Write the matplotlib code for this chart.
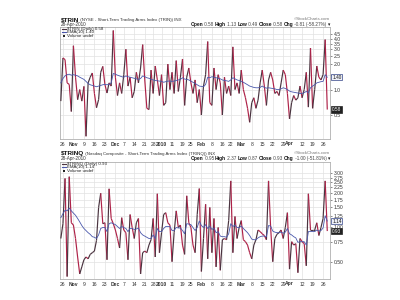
import numpy as np
import pandas as pd
import matplotlib
matplotlib.use('Agg')
import matplotlib.pyplot as plt
from matplotlib.collections import LineCollection
from matplotlib.ticker import NullLocator

plt.rcParams['font.family'] = ['Liberation Sans', 'DejaVu Sans']

# ---------------- data ----------------
holidays = ['2009-11-26', '2009-12-25', '2010-01-01', '2010-01-18', '2010-02-15', '2010-04-02']
first_day = '2009-10-23'
last_day = '2010-04-28'

trin = [
    0.73, 2.37, 2.26, 1.20, 1.15, 0.55, 3.30, 1.40, 0.76, 1.00,
    0.73, 1.09, 0.28, 1.20, 1.40, 1.57, 0.90, 0.61, 0.76, 1.60,
    1.88, 1.15, 0.91, 1.20, 1.10, 5.00, 1.40, 0.85, 1.20, 0.90,
    1.50, 3.00, 1.10, 1.40, 0.80, 0.95, 1.60, 1.20, 1.80, 3.40,
    1.30, 0.60, 0.58, 1.70, 0.90, 1.90, 1.30, 0.85, 1.50, 0.65,
    0.70, 2.00, 1.00, 1.60, 0.90, 2.20, 0.95, 1.40, 2.30, 0.65,
    1.40, 1.80, 1.20, 0.90, 1.30, 0.70, 1.00, 0.50, 1.10, 1.50,
    3.70, 0.70, 0.65, 1.80, 1.00, 1.50, 1.20, 0.50, 1.40, 0.90,
    1.10, 0.85, 3.20, 1.00, 1.20, 0.90, 1.70, 1.00, 0.80, 0.60,
    0.41, 0.70, 0.80, 0.60, 0.75, 1.20, 1.70, 1.10, 0.65, 1.30,
    1.60, 1.30, 0.90, 0.95, 0.85, 1.20, 1.70, 1.50, 0.90, 0.45,
    0.70, 0.85, 0.75, 0.80, 1.10, 0.80, 1.00, 1.60, 0.62, 3.10,
    0.60, 1.00, 1.90, 1.40, 1.30, 1.50, 3.90, 0.58]

trin_ema = [
    1.20, 1.35, 1.45, 1.50, 1.52, 1.48, 1.50, 1.48, 1.45, 1.40,
    1.36, 1.32, 1.25, 1.18, 1.14, 1.12, 1.10, 1.08, 1.10, 1.12,
    1.14, 1.15, 1.14, 1.15, 1.20, 1.55, 1.52, 1.48, 1.45, 1.42,
    1.40, 1.45, 1.42, 1.40, 1.38, 1.36, 1.34, 1.32, 1.35, 1.45,
    1.42, 1.38, 1.36, 1.32, 1.30, 1.28, 1.27, 1.26, 1.25, 1.22,
    1.24, 1.26, 1.26, 1.25, 1.26, 1.28, 1.30, 1.32, 1.38, 1.33,
    1.32, 1.30, 1.26, 1.22, 1.18, 1.14, 1.10, 1.09, 1.08, 1.15,
    1.40, 1.38, 1.42, 1.40, 1.38, 1.36, 1.34, 1.30, 1.28, 1.27,
    1.25, 1.30, 1.38, 1.34, 1.30, 1.28, 1.25, 1.22, 1.18, 1.14,
    1.10, 1.08, 1.06, 1.05, 1.05, 1.06, 1.10, 1.06, 1.04, 1.05,
    1.04, 1.03, 1.02, 1.00, 1.00, 1.02, 1.05, 1.03, 1.00, 0.96,
    0.94, 0.93, 0.92, 0.91, 0.90, 0.90, 0.92, 0.95, 0.92, 1.05,
    1.10, 1.14, 1.20, 1.22, 1.24, 1.25, 1.50, 1.40]

trinq = [
    0.80, 1.08, 2.70, 0.37, 2.80, 1.10, 1.05, 0.80, 0.55, 0.39,
    0.45, 0.52, 0.55, 0.53, 0.58, 0.60, 0.62, 0.77, 1.50, 2.00,
    1.08, 1.10, 0.52, 2.19, 1.20, 1.08, 0.95, 0.80, 0.66, 1.22,
    0.95, 0.90, 0.52, 1.30, 1.00, 0.80, 1.10, 1.20, 0.39, 0.60,
    0.62, 0.60, 0.70, 0.78, 1.20, 0.55, 1.98, 0.60, 0.90, 1.30,
    1.35, 1.10, 1.05, 0.50, 0.90, 1.40, 1.00, 1.05, 0.70, 0.58,
    1.90, 1.10, 1.00, 0.70, 0.60, 1.30, 2.20, 0.41, 0.80, 1.60,
    0.53, 1.50, 0.60, 1.20, 0.45, 1.00, 0.42, 0.78, 0.80, 0.78,
    1.15, 2.57, 0.60, 1.25, 0.80, 1.00, 1.15, 0.78, 0.75, 0.70,
    0.60, 0.53, 0.70, 0.78, 0.95, 0.92, 0.88, 0.85, 0.78, 2.57,
    1.00, 0.50, 0.80, 0.87, 0.90, 0.95, 0.80, 1.00, 1.35, 0.43,
    0.75, 0.70, 0.72, 0.40, 0.80, 0.75, 0.72, 0.46, 1.98, 0.95,
    0.95, 0.95, 1.10, 0.85, 1.00, 1.20, 2.57, 0.93]

trinq_ema = [
    1.22, 1.32, 1.42, 1.40, 1.48, 1.40, 1.34, 1.28, 1.20, 1.12,
    1.04, 0.98, 0.94, 0.90, 0.87, 0.83, 0.82, 0.80, 0.86, 0.98,
    1.00, 1.00, 0.92, 1.08, 1.10, 1.08, 1.06, 1.02, 0.98, 1.02,
    1.00, 0.98, 0.92, 0.98, 0.98, 0.96, 0.97, 0.99, 0.90, 0.86,
    0.84, 0.82, 0.80, 0.80, 0.86, 0.80, 0.98, 0.92, 0.92, 0.98,
    1.02, 1.02, 1.02, 0.94, 0.94, 1.00, 0.99, 0.99, 0.94, 0.88,
    1.08, 1.07, 1.06, 1.00, 0.94, 1.00, 1.14, 1.04, 1.00, 1.06,
    0.98, 1.03, 0.96, 0.99, 0.90, 0.92, 0.84, 0.83, 0.83, 0.82,
    0.88, 1.08, 1.02, 1.05, 1.00, 1.00, 1.03, 0.98, 0.94, 0.90,
    0.85, 0.79, 0.78, 0.78, 0.81, 0.83, 0.84, 0.84, 0.83, 1.04,
    1.03, 0.93, 0.91, 0.90, 0.90, 0.91, 0.89, 0.91, 0.98, 0.88,
    0.86, 0.83, 0.81, 0.74, 0.75, 0.75, 0.75, 0.70, 0.92, 0.92,
    0.92, 0.92, 0.95, 0.93, 0.94, 0.99, 1.27, 1.14]

tick_dates = ['2009-10-26', '2009-11-02', '2009-11-09', '2009-11-16', '2009-11-23',
              '2009-12-01', '2009-12-07', '2009-12-14', '2009-12-21', '2009-12-28',
              '2010-01-04', '2010-01-11', '2010-01-19', '2010-01-25', '2010-02-01',
              '2010-02-08', '2010-02-16', '2010-02-22', '2010-03-01', '2010-03-08',
              '2010-03-15', '2010-03-22', '2010-03-29', '2010-04-01', '2010-04-12',
              '2010-04-19', '2010-04-26']
tick_labels = ['26', 'Nov', '9', '16', '23', 'Dec', '7', '14', '21', '28', '2010', '11', '19',
               '25', 'Feb', '8', '16', '22', 'Mar', '8', '15', '22', '29', 'Apr', '12', '19', '26']
bold_labels = ['Nov', 'Dec', '2010', 'Feb', 'Mar', 'Apr']

top_yticks = [0.5, 1.0, 1.5, 2.0, 2.5, 3.0, 3.5, 4.0, 4.5]
top_ylabels = ['0.5', '1.0', '', '2.0', '2.5', '3.0', '3.5', '4.0', '4.5']
bot_yticks = [0.5, 0.75, 1.0, 1.25, 1.5, 1.75, 2.0, 2.25, 2.5, 2.75, 3.0]
bot_ylabels = ['0.50', '0.75', '1.00', '1.25', '1.50', '1.75', '2.00', '2.25', '2.50', '2.75', '3.00']

# ---------------- figure ----------------
W, H = 400, 300
fig = plt.figure(figsize=(4, 3), dpi=100)
fig.patch.set_facecolor('white')
renderer = fig.canvas.get_renderer()

dates = pd.bdate_range(first_day, last_day)
dates = dates[~dates.isin(pd.to_datetime(holidays))]
date_pos = {d.strftime('%Y-%m-%d'): i for i, d in enumerate(dates)}
tick_idx = [date_pos[d] for d in tick_dates]

UP = '#4a3440'
DOWN = '#ae2248'
EMA_C = '#4a58ac'
GRID = '#e2e2e2'


def fx(x):
    return x / W


def fy(y):
    return 1 - y / H


def chain(x, y, pieces, align='left'):
    seq = pieces if align == 'left' else list(reversed(pieces))
    for s, w, sz, c in seq:
        t = fig.text(fx(x), fy(y), s, ha=align, va='center', fontsize=sz,
                     fontweight=w, color=c)
        bb = t.get_window_extent(renderer)
        x = bb.x1 if align == 'left' else bb.x0


def panel(top_px, bot_px, vals, ema, ylim, yticks, ylabels, box_ema, box_last):
    rect = [fx(60), fy(bot_px), fx(330) - fx(60), (bot_px - top_px) / H]
    ax = fig.add_axes(rect)
    n = len(vals)
    x = np.arange(n)
    ax.set_yscale('log')
    ax.set_ylim(*ylim)
    ax.set_xlim(-0.4, 128.3)
    v = np.asarray(vals, dtype=float)
    pts = np.column_stack([x, v])
    segs = np.stack([pts[:-1], pts[1:]], axis=1)
    cols = [UP if v[i + 1] >= v[i] else DOWN for i in range(n - 1)]
    lc = LineCollection(segs, colors=cols, linewidths=0.85, zorder=3)
    ax.add_collection(lc)
    ax.plot(x, ema, color=EMA_C, lw=0.6, zorder=4)

    ax.yaxis.tick_right()
    ax.set_yticks(yticks)
    ax.set_yticklabels(ylabels)
    ax.yaxis.set_minor_locator(NullLocator())
    ax.set_xticks(tick_idx)
    ax.set_xticklabels(tick_labels)
    for lab in ax.get_xticklabels():
        if lab.get_text() in bold_labels:
            lab.set_fontweight('bold')
    ax.tick_params(axis='y', labelsize=3.6, length=1.5, width=0.4, pad=1.2,
                   colors='#333333')
    ax.tick_params(axis='x', labelsize=3.6, length=0, pad=1.8, colors='#333333')
    ax.grid(True, color=GRID, lw=0.5, zorder=0)
    for sp in ax.spines.values():
        sp.set_color('#b0b0b0')
        sp.set_linewidth(0.6)
    tr = ax.get_yaxis_transform()
    ax.text(1.008, ema[-1], box_ema, transform=tr, fontsize=3.4, va='center', ha='left',
            color='#111111', zorder=6, clip_on=False,
            bbox=dict(boxstyle='square,pad=0.15', fc='#eef0f8', ec='#334488', lw=0.5))
    ax.text(1.008, vals[-1], box_last, transform=tr, fontsize=3.4, va='center', ha='left',
            color='white', zorder=6, clip_on=False,
            bbox=dict(boxstyle='square,pad=0.15', fc='#222222', ec='#222222', lw=0.5))
    return ax


def legend(y0, lines):
    for k, (label, color, kind) in enumerate(lines):
        yy = y0 + k * 3.5
        if kind == 'line':
            fig.add_artist(plt.Line2D([fx(62), fx(66)], [fy(yy), fy(yy)], color=color, lw=0.8))
        else:
            fig.add_artist(plt.Rectangle((fx(63), fy(yy + 1.2)), 2.4 / W, 2.4 / H,
                                         color=color, lw=0))
        fig.text(fx(67), fy(yy), label, fontsize=3.2, va='center', ha='left', color='#222222')


def header(y_title, y_info, y_copy, sym, desc, info):
    chain(61, y_title, [(sym, 'bold', 4.6, '#111111'), (' ' + desc, 'normal', 3.2, '#333333')])
    fig.text(fx(61), fy(y_info + 0.3), '28-Apr-2010', fontsize=3.3, va='center', ha='left',
             color='#333333')
    fig.text(fx(330), fy(y_copy), '\u00a9StockCharts.com', fontsize=3.2, va='center',
             ha='right', color='#777777')
    pieces = []
    for name, val in info:
        pieces.append((name, 'bold', 3.5, '#111111'))
        pieces.append((' ' + val + ' ', 'normal', 3.3, '#444444'))
    pieces.append(('\u25be', 'normal', 3.3, '#111111'))
    chain(330, y_info, pieces, align='right')


# ---- top panel ----
panel(27, 139, trin, trin_ema, (0.26, 5.5), top_yticks, top_ylabels,
      '%.2f' % trin_ema[-1], '%.2f' % trin[-1])
header(20.0, 24.3, 19.0, '$TRIN', '(NYSE - Short-Term Trading Arms Index (TRIN)) INX',
       [('Open', '0.58'), ('High', '1.13'), ('Low', '0.49'), ('Close', '0.58'),
        ('Chg', '-0.81 (-58.27%)')])
legend(28.8, [('$TRIN (Daily) 0.58', UP, 'line'),
              ('EMA(10) %.2f' % trin_ema[-1], EMA_C, 'line'),
              ('Volume undef', '#222222', 'box')])

# ---- bottom panel ----
panel(162, 279, trinq, trinq_ema, (0.352, 3.77), bot_yticks, bot_ylabels,
      '%.2f' % trinq_ema[-1], '%.2f' % trinq[-1])
header(154.0, 158.3, 152.5, '$TRINQ',
       '(Nasdaq Composite - Short-Term Trading Arms Index (TRINQ)) INX',
       [('Open', '0.95'), ('High', '2.37'), ('Low', '0.87'), ('Close', '0.93'),
        ('Chg', '-1.00 (-51.81%)')])
legend(163.8, [('$TRINQ (Daily) 0.93', UP, 'line'),
               ('EMA(10) %.2f' % trinq_ema[-1], EMA_C, 'line'),
               ('Volume undef', '#222222', 'box')])

fig.savefig('out.png', dpi=100, facecolor='white')
